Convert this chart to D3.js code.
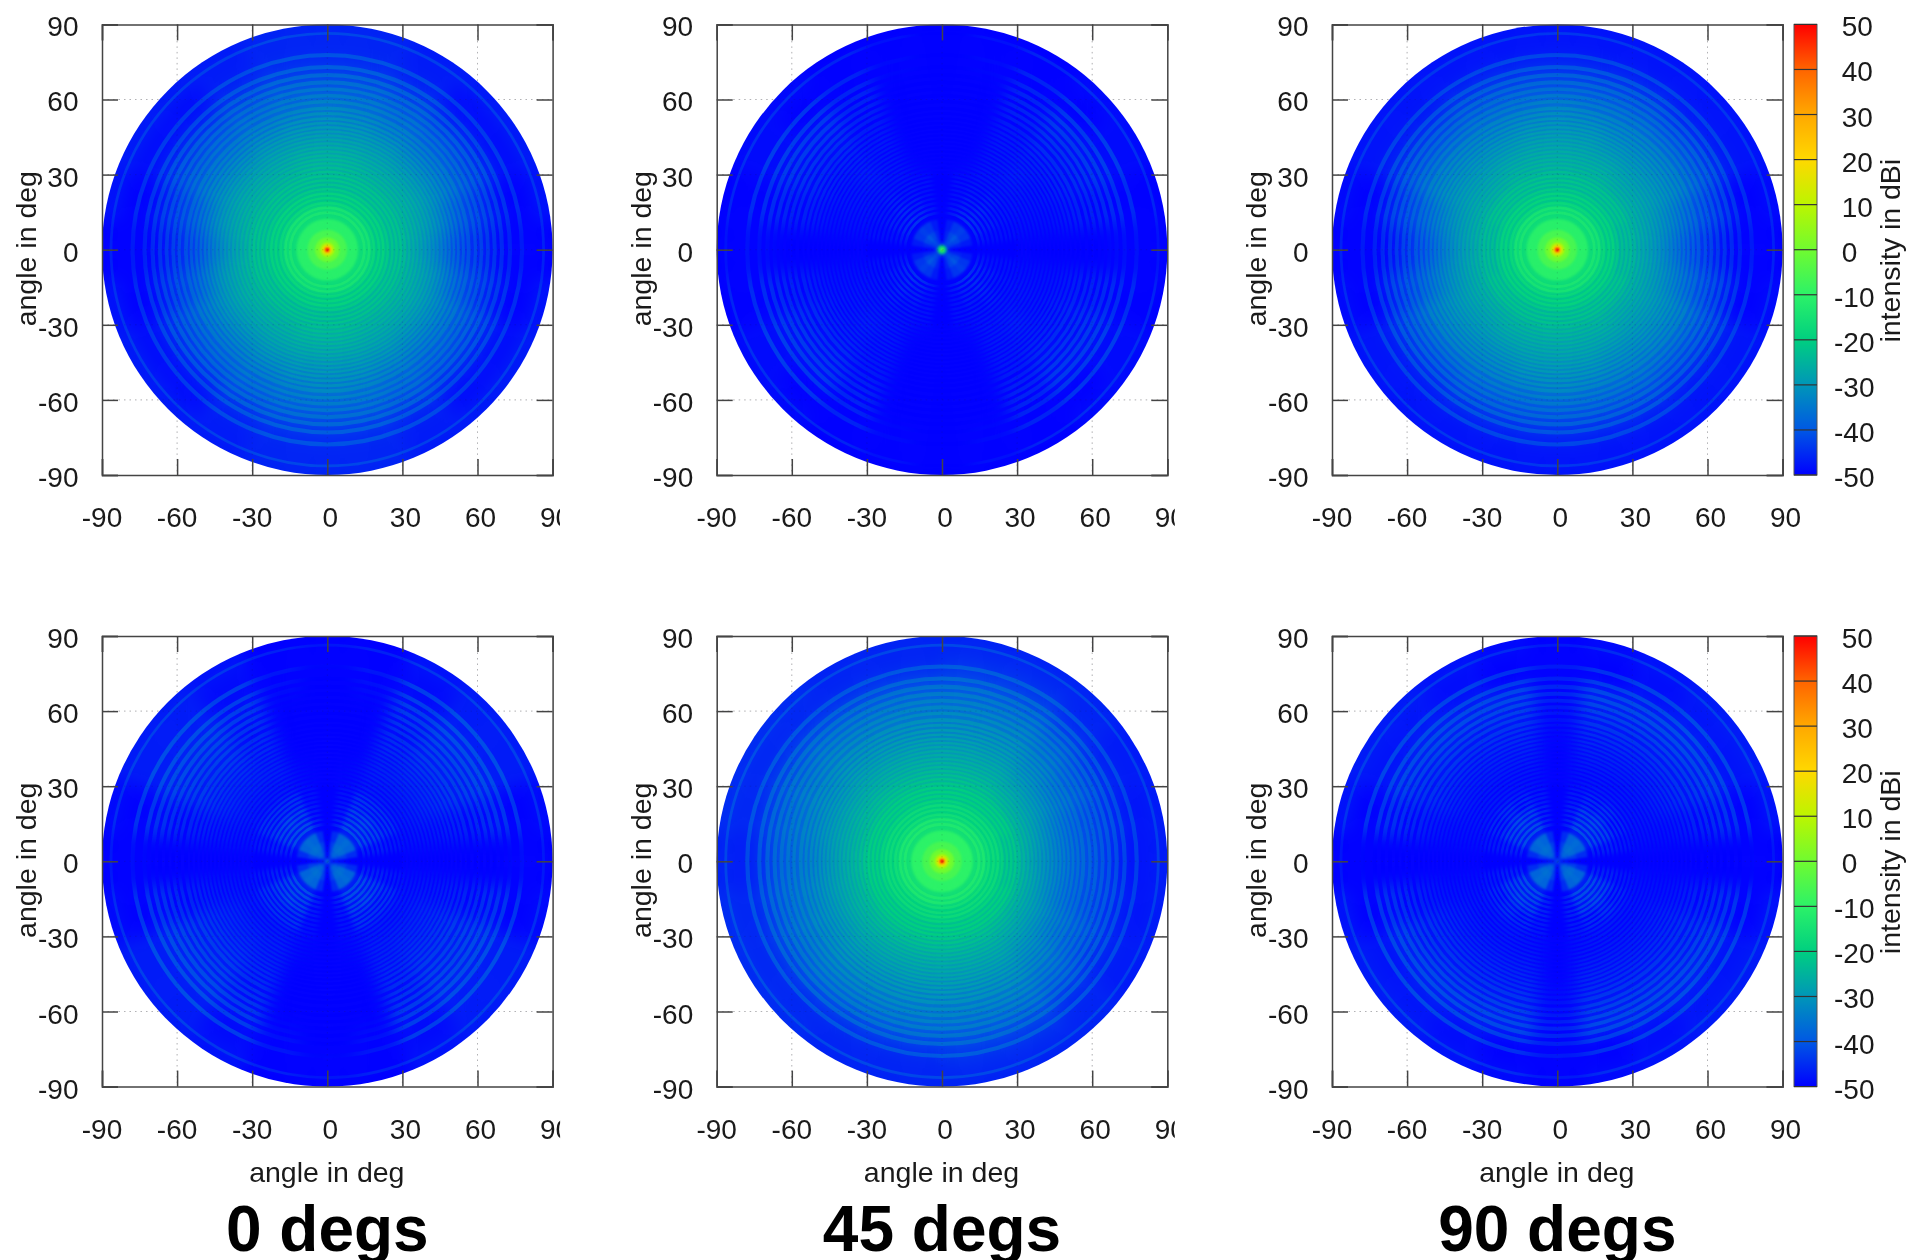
<!DOCTYPE html>
<html>
<head>
<meta charset="utf-8">
<script src="https://cdn.jsdelivr.net/npm/d3@7"></script>
<style>
  html, body { margin: 0; background: #fff; }
  svg { display: block; filter: blur(0.45px); }
  text { font-family: "Liberation Sans", Arial, sans-serif; fill: #1a1a1a; }
</style>
</head>
<body>
<svg id="chart" width="1908" height="1260"></svg>
<script>
// angle of the pattern from boresight, band edges in deg
const bandEdges = [0, 1, 2, 3, 5, 8, 12, 18, 24, 30, 36, 42, 48, 54, 60, 66, 72, 78, 84, 90];
// azimuth sectors measured from the horizontal axis, in deg
const azEdges = [0, 8, 22, 38, 52, 68, 82, 90];

// crest level in dBi, one row per band, one column per azimuth sector
const co0 = [
  [48, 48, 48, 48, 48, 48, 48],
  [18, 18, 18, 18, 18, 18, 18],
  [8, 8, 8, 8, 8, 8, 8],
  [0, 0, 0, 0, 0, 0, 0],
  [-6, -6, -6, -6, -6, -6, -6],
  [-11, -11, -11, -11, -11, -11, -11],
  [-14, -14, -14, -14, -14, -14, -14],
  [-19, -19, -19, -19, -19, -19, -19],
  [-22, -22, -22, -22, -22, -22, -22],
  [-25, -24, -24, -24, -24, -23, -23],
  [-29, -27, -26, -26, -26, -25, -25],
  [-33, -30, -29, -29, -28, -28, -28],
  [-38, -35, -32, -32, -31, -30, -30],
  [-41, -38, -35, -35, -34, -33, -32],
  [-43, -41, -38, -37, -36, -35, -35],
  [-45, -43, -40, -40, -38, -37, -37],
  [-47, -45, -43, -43, -41, -40, -40],
  [-47, -45, -44, -44, -42, -41, -41],
  [-46, -44, -43, -43, -43, -42, -42]
];
const co90 = [
  [48, 48, 48, 48, 48, 48, 48],
  [18, 18, 18, 18, 18, 18, 18],
  [8, 8, 8, 8, 8, 8, 8],
  [0, 0, 0, 0, 0, 0, 0],
  [-6, -6, -6, -6, -6, -6, -6],
  [-11, -11, -11, -11, -11, -11, -11],
  [-14, -14, -14, -14, -14, -14, -14],
  [-19, -19, -19, -19, -19, -19, -19],
  [-23, -23, -22, -22, -22, -22, -22],
  [-26, -25, -25, -25, -24, -24, -24],
  [-29, -28, -27, -27, -26, -26, -26],
  [-33, -31, -29, -29, -29, -28, -28],
  [-37, -34, -31, -31, -31, -30, -30],
  [-40, -37, -33, -33, -33, -33, -32],
  [-43, -40, -37, -37, -36, -36, -36],
  [-45, -42, -39, -39, -38, -38, -38],
  [-47, -45, -42, -42, -41, -41, -41],
  [-47, -45, -43, -43, -43, -43, -43],
  [-46, -45, -44, -44, -44, -44, -44]
];
const co45West = [
  [48, 48, 48, 48, 48, 48, 48],
  [18, 18, 18, 18, 18, 18, 18],
  [8, 8, 8, 8, 8, 8, 8],
  [0, 0, 0, 0, 0, 0, 0],
  [-6, -6, -6, -6, -6, -6, -6],
  [-10, -10, -10, -10, -10, -10, -10],
  [-13, -13, -13, -13, -13, -13, -13],
  [-17, -17, -17, -17, -17, -17, -17],
  [-20, -20, -20, -20, -20, -20, -20],
  [-23, -23, -23, -22, -22, -22, -22],
  [-26, -26, -25, -25, -25, -25, -25],
  [-29, -28, -28, -27, -27, -27, -27],
  [-32, -31, -30, -29, -29, -29, -29],
  [-34, -33, -32, -31, -31, -31, -31],
  [-36, -35, -34, -33, -33, -33, -33],
  [-38, -37, -36, -35, -35, -35, -35],
  [-41, -40, -39, -39, -39, -39, -39],
  [-42, -41, -41, -41, -41, -41, -41],
  [-42, -41, -41, -41, -42, -42, -42]
];
const co45East = [
  [48, 48, 48, 48, 48, 48, 48],
  [18, 18, 18, 18, 18, 18, 18],
  [8, 8, 8, 8, 8, 8, 8],
  [0, 0, 0, 0, 0, 0, 0],
  [-6, -6, -6, -6, -6, -6, -6],
  [-10, -10, -10, -10, -10, -10, -10],
  [-13, -13, -13, -13, -13, -13, -13],
  [-17, -17, -17, -17, -17, -17, -17],
  [-21, -21, -20, -20, -20, -20, -20],
  [-25, -24, -24, -23, -22, -22, -22],
  [-29, -28, -27, -26, -25, -25, -25],
  [-32, -32, -30, -29, -27, -27, -27],
  [-35, -35, -33, -31, -29, -29, -29],
  [-37, -37, -35, -33, -31, -31, -31],
  [-39, -39, -37, -35, -33, -33, -33],
  [-41, -40, -39, -37, -35, -35, -35],
  [-43, -42, -41, -40, -38, -38, -38],
  [-43, -43, -42, -41, -40, -40, -40],
  [-43, -43, -43, -42, -42, -42, -42]
];
const cross0 = [
  [-38, -38, -38, -38, -38, -38, -38],
  [-47, -46, -44, -44, -44, -46, -47],
  [-50, -46, -42, -40, -42, -46, -50],
  [-50, -44, -39, -37, -39, -44, -50],
  [-50, -43, -37, -36, -37, -43, -50],
  [-50, -45, -38, -37, -38, -45, -50],
  [-50, -46, -41, -41, -41, -46, -50],
  [-50, -46, -42, -41, -42, -47, -50],
  [-50, -47, -44, -44, -44, -48, -50],
  [-50, -48, -47, -47, -47, -49, -50],
  [-50, -47, -46, -46, -46, -49, -50],
  [-50, -47, -45, -45, -46, -50, -50],
  [-50, -46, -44, -44, -45, -50, -50],
  [-50, -46, -43, -43, -45, -50, -50],
  [-50, -45, -42, -42, -44, -50, -50],
  [-50, -44, -41, -41, -43, -49, -50],
  [-49, -44, -41, -41, -43, -48, -50],
  [-48, -44, -41, -41, -43, -47, -49],
  [-47, -45, -43, -43, -44, -46, -47]
];
const cross90 = [
  [-42, -42, -42, -42, -42, -42, -42],
  [-47, -46, -44, -44, -44, -46, -47],
  [-50, -46, -42, -40, -42, -46, -50],
  [-50, -44, -39, -37, -39, -44, -50],
  [-50, -43, -37, -36, -37, -43, -50],
  [-50, -45, -38, -37, -38, -45, -50],
  [-50, -46, -41, -41, -41, -46, -50],
  [-50, -46, -42, -41, -42, -46, -50],
  [-50, -47, -45, -44, -45, -47, -50],
  [-50, -48, -47, -47, -47, -48, -50],
  [-50, -48, -47, -47, -47, -47, -50],
  [-50, -48, -46, -46, -46, -46, -50],
  [-50, -47, -45, -45, -45, -45, -49],
  [-50, -46, -44, -44, -44, -44, -48],
  [-50, -45, -43, -42, -42, -42, -47],
  [-50, -44, -41, -41, -41, -41, -45],
  [-50, -44, -42, -41, -42, -44, -47],
  [-49, -44, -42, -42, -43, -45, -47],
  [-47, -44, -43, -43, -44, -45, -47]
];
const cross45 = [
  [-6, -6, -6, -6, -6, -6, -6],
  [-22, -22, -22, -22, -22, -22, -22],
  [-44, -44, -43, -43, -43, -44, -44],
  [-50, -46, -43, -41, -43, -46, -50],
  [-50, -46, -42, -40, -42, -46, -50],
  [-50, -47, -44, -43, -44, -47, -50],
  [-50, -47, -45, -44, -45, -47, -50],
  [-50, -48, -46, -45, -46, -48, -50],
  [-50, -48, -47, -46, -47, -48, -50],
  [-50, -48, -47, -47, -47, -49, -50],
  [-50, -48, -47, -46, -47, -50, -50],
  [-50, -48, -47, -46, -47, -50, -50],
  [-50, -47, -46, -46, -47, -50, -50],
  [-50, -46, -45, -45, -47, -50, -50],
  [-50, -46, -44, -44, -46, -50, -50],
  [-49, -45, -43, -43, -46, -50, -50],
  [-48, -45, -43, -44, -46, -49, -50],
  [-48, -45, -43, -44, -46, -49, -50],
  [-48, -46, -45, -45, -46, -48, -50]
];

// how far the troughs between fringes sit below the crest, per band
const dropCo = [0, 0, 0, 0, 0, 0, 3, 3, 3, 3, 3, 3, 4, 4, 4, 5, 5, 5, 4];
const dropCross = [0, 0, 0, 0, 0, 0, 6, 6, 5, 3, 3, 3, 4, 4, 5, 5, 6, 6, 4];

// fringe crests read along the vertical axis, in deg
const fringeDeg = [14.8, 16.8, 18.7, 20.6, 22.4, 24.2, 26.0, 27.7, 29.4, 31.1, 32.8, 34.5,
  36.1, 37.7, 39.3, 40.9, 42.5, 44.1, 45.7, 47.3, 48.9, 50.6, 52.4, 54.4, 56.5, 59.2,
  61.6, 64.2, 66.9, 69.8, 73.0, 77.8, 86.4];

const angleTicks = [-90, -60, -30, 0, 30, 60, 90];
const cbTicks = [50, 40, 30, 20, 10, 0, -10, -20, -30, -40, -50];
const cbValues = [-50, -40, -30, -20, -10, 0, 10, 20, 30, 40, 50];
const cbColors = ["#0000ff", "#0058e4", "#0096b8", "#00cf80", "#2cf268", "#70fb30",
  "#bcf500", "#ffd800", "#ffa800", "#ff6400", "#ff0000"];

const columnLefts = [102, 716.7, 1332];
const rowTops = [24.4, 636];
const size = 450.6;
const titles = ["0 degs", "45 degs", "90 degs"];

const panels = [
  { col: 0, row: 0, west: co0, east: co0, drop: dropCo },
  { col: 1, row: 0, west: cross45, east: cross45, drop: dropCross },
  { col: 2, row: 0, west: co90, east: co90, drop: dropCo },
  { col: 0, row: 1, west: cross0, east: cross0, drop: dropCross },
  { col: 1, row: 1, west: co45West, east: co45East, drop: dropCo },
  { col: 2, row: 1, west: cross90, east: cross90, drop: dropCross }
];

const svg = d3.select("#chart");
const defs = svg.append("defs");

const colorScale = d3.scaleLinear().domain(cbValues).range(cbColors).clamp(true);

function addBlur(id, std) {
  defs.append("filter")
    .attr("id", id)
    .attr("x", "-10%").attr("y", "-10%")
    .attr("width", "120%").attr("height", "120%")
    .attr("color-interpolation-filters", "sRGB")
    .append("feGaussianBlur")
    .attr("stdDeviation", std);
}
addBlur("blurOuter", 8);
addBlur("blurMid", 2.5);
addBlur("blurInner", 1.2);
addBlur("blurRing", 0.5);

const x = d3.scaleLinear().domain([-90, 90]).range([0, size]);
const y = d3.scaleLinear().domain([-90, 90]).range([size, 0]);
const r = d3.scaleLinear().domain([0, 90]).range([0, size / 2]);
const arc = d3.arc();
const deg = Math.PI / 180;

// the crests are only shown through this set of thin rings
const ringMask = defs.append("mask")
  .attr("id", "fringes")
  .attr("maskUnits", "userSpaceOnUse")
  .attr("x", -260).attr("y", -260).attr("width", 520).attr("height", 520)
  .append("g")
  .attr("filter", "url(#blurRing)");
ringMask.selectAll("circle")
  .data(fringeDeg)
  .join("circle")
  .attr("r", d => r(d))
  .attr("fill", "none")
  .attr("stroke", "#fff")
  .attr("stroke-width", (d, k) => {
    const gap = k < fringeDeg.length - 1 ? Math.min(fringeDeg[k + 1] - d, 3) : 2;
    return r(gap * 0.55);
  });

// one entry per quadrant: which table and how azimuth maps to the arc angle
const quadrants = [
  { side: "east", base: 90, sign: -1 },
  { side: "east", base: 90, sign: 1 },
  { side: "west", base: 270, sign: 1 },
  { side: "west", base: 270, sign: -1 }
];

function bandCells(panel, i, offset) {
  const last = i === bandEdges.length - 2;
  const cells = [];
  quadrants.forEach(q => {
    d3.range(azEdges.length - 1).forEach(j => {
      const a0 = q.base + q.sign * azEdges[j];
      const a1 = q.base + q.sign * azEdges[j + 1];
      cells.push({
        d: arc({
          innerRadius: r(bandEdges[i]),
          outerRadius: r(last ? 100 : bandEdges[i + 1]),
          startAngle: Math.min(a0, a1) * deg,
          endAngle: Math.max(a0, a1) * deg
        }),
        value: panel[q.side][i][j] - offset
      });
    });
  });
  return cells;
}

function drawCells(g, cells) {
  g.selectAll("path")
    .data(cells)
    .join("path")
    .attr("d", d => d.d)
    .attr("fill", d => colorScale(d.value))
    .attr("stroke", d => colorScale(d.value))
    .attr("stroke-width", 0.4);
}

// same table drawn at two softness levels so the fringe zone keeps its wedges
function drawField(parent, panel, offsets) {
  const bands = d3.range(bandEdges.length - 1);
  const cellsUpTo = limit => bands
    .filter(i => bandEdges[i + 1] <= limit)
    .flatMap(i => bandCells(panel, i, offsets[i]));
  drawCells(parent.append("g").attr("filter", "url(#blurOuter)"), cellsUpTo(90));
  drawCells(parent.append("g").attr("filter", "url(#blurMid)"), cellsUpTo(30));
}

panels.forEach((panel, idx) => {
  const left = columnLefts[panel.col];
  const top = rowTops[panel.row];
  const g = svg.append("g").attr("transform", `translate(${left},${top})`);

  defs.append("clipPath").attr("id", `disc${idx}`)
    .append("circle").attr("cx", x(0)).attr("cy", y(0)).attr("r", r(90));

  // faint dotted grid, visible on the white corners
  const grid = g.append("g");
  grid.selectAll(".gx").data(angleTicks.slice(1, -1)).join("line").attr("class", "gx")
    .attr("x1", d => x(d)).attr("x2", d => x(d)).attr("y1", 0).attr("y2", size);
  grid.selectAll(".gy").data(angleTicks.slice(1, -1)).join("line").attr("class", "gy")
    .attr("y1", d => y(d)).attr("y2", d => y(d)).attr("x1", 0).attr("x2", size);
  grid.selectAll("line").attr("stroke", "#ccc").attr("stroke-width", 1).attr("stroke-dasharray", "1.5 4");

  // the pattern itself
  const disc = g.append("g").attr("clip-path", `url(#disc${idx})`)
    .append("g").attr("transform", `translate(${x(0)},${y(0)})`);

  drawField(disc.append("g"), panel, panel.drop);
  const crests = d3.range(bandEdges.length - 1).map(() => 0);
  drawField(disc.append("g").attr("mask", "url(#fringes)"), panel, crests);
  drawCells(disc.append("g").attr("filter", "url(#blurInner)"),
    d3.range(bandEdges.length - 1)
      .filter(i => bandEdges[i + 1] <= 12)
      .flatMap(i => bandCells(panel, i, 0)));

  // grid shows faintly through the pattern as well
  g.append("g").selectAll("line")
    .data(angleTicks.slice(1, -1))
    .join("line")
    .attr("x1", d => x(d)).attr("x2", d => x(d)).attr("y1", 0).attr("y2", size)
    .attr("stroke", "#223").attr("stroke-opacity", 0.15).attr("stroke-dasharray", "1.5 4");
  g.append("g").selectAll("line")
    .data(angleTicks.slice(1, -1))
    .join("line")
    .attr("y1", d => y(d)).attr("y2", d => y(d)).attr("x1", 0).attr("x2", size)
    .attr("stroke", "#223").attr("stroke-opacity", 0.15).attr("stroke-dasharray", "1.5 4");

  // inward ticks on all four sides
  const tickLen = 16;
  [
    d3.axisBottom(x).tickValues(angleTicks).tickSize(-tickLen).tickFormat(""),
    d3.axisTop(x).tickValues(angleTicks).tickSize(-tickLen).tickFormat("")
  ].forEach((axis, i) => {
    g.append("g").attr("transform", `translate(0,${i === 0 ? size : 0})`).call(axis)
      .call(s => s.selectAll("line, path").attr("stroke", "#444").attr("stroke-width", 1.5));
  });
  [
    d3.axisLeft(y).tickValues(angleTicks).tickSize(-tickLen).tickFormat(""),
    d3.axisRight(y).tickValues(angleTicks).tickSize(-tickLen).tickFormat("")
  ].forEach((axis, i) => {
    g.append("g").attr("transform", `translate(${i === 0 ? 0 : size},0)`).call(axis)
      .call(s => s.selectAll("line, path").attr("stroke", "#444").attr("stroke-width", 1.5));
  });

  // y tick labels
  g.append("g").selectAll("text")
    .data(angleTicks)
    .join("text")
    .attr("x", -23.5)
    .attr("y", d => y(d) + 12)
    .attr("text-anchor", "end")
    .attr("font-size", 28)
    .text(d => d);

  // x tick labels, the right end of the first two columns is cut off as in the original
  const xLabels = g.append("g");
  if (panel.col < 2) {
    defs.append("clipPath").attr("id", `xclip${idx}`)
      .append("rect").attr("x", -60).attr("y", size).attr("width", size + 60 + 7.5).attr("height", 70);
    xLabels.attr("clip-path", `url(#xclip${idx})`);
  }
  xLabels.selectAll("text")
    .data(angleTicks)
    .join("text")
    .attr("x", d => x(d) + (d < 0 ? 0 : 3))
    .attr("y", size + 52)
    .attr("text-anchor", "middle")
    .attr("font-size", 28)
    .text(d => d);

  // axis labels
  g.append("text")
    .attr("transform", `translate(-66,${size / 2 - 1}) rotate(-90)`)
    .attr("text-anchor", "middle")
    .attr("font-size", 28.5)
    .text("angle in deg");

  if (panel.row === 1) {
    g.append("text")
      .attr("x", size / 2 - 0.5)
      .attr("y", size + 95)
      .attr("text-anchor", "middle")
      .attr("font-size", 28.5)
      .text("angle in deg");
  }
});

// panel titles
svg.append("g").selectAll("text")
  .data(titles)
  .join("text")
  .attr("x", (d, i) => columnLefts[i] + size / 2)
  .attr("y", 1251)
  .attr("text-anchor", "middle")
  .attr("font-size", 64)
  .attr("font-weight", "bold")
  .style("fill", "#000")
  .text(d => d);

// colour bars
const gradient = defs.append("linearGradient")
  .attr("id", "cbGradient")
  .attr("x1", 0).attr("x2", 0).attr("y1", 1).attr("y2", 0);
gradient.selectAll("stop")
  .data(cbValues)
  .join("stop")
  .attr("offset", (d, i) => i / (cbValues.length - 1))
  .attr("stop-color", d => colorScale(d));

const cbX = 1794;
const cbWidth = 23;
const cbY = d3.scaleLinear().domain([-50, 50]).range([size, 0]);

rowTops.forEach(top => {
  const g = svg.append("g").attr("transform", `translate(${cbX},${top})`);
  g.append("rect")
    .attr("width", cbWidth).attr("height", size)
    .attr("fill", "url(#cbGradient)")
    .attr("stroke", "#555").attr("stroke-width", 1);
  g.append("g").selectAll("line")
    .data(cbTicks)
    .join("line")
    .attr("x1", 0).attr("x2", cbWidth)
    .attr("y1", d => cbY(d)).attr("y2", d => cbY(d))
    .attr("stroke", "#333").attr("stroke-width", 1.2);
  g.append("g").selectAll("text")
    .data(cbTicks)
    .join("text")
    .attr("x", d => d < 0 ? 40 : 47.7)
    .attr("y", d => cbY(d) + 12)
    .attr("font-size", 28)
    .text(d => d);
  g.append("text")
    .attr("transform", `translate(106,${size / 2 + 1}) rotate(-90)`)
    .attr("text-anchor", "middle")
    .attr("font-size", 28.5)
    .text("intensity in dBi");
});
</script>
</body>
</html>
